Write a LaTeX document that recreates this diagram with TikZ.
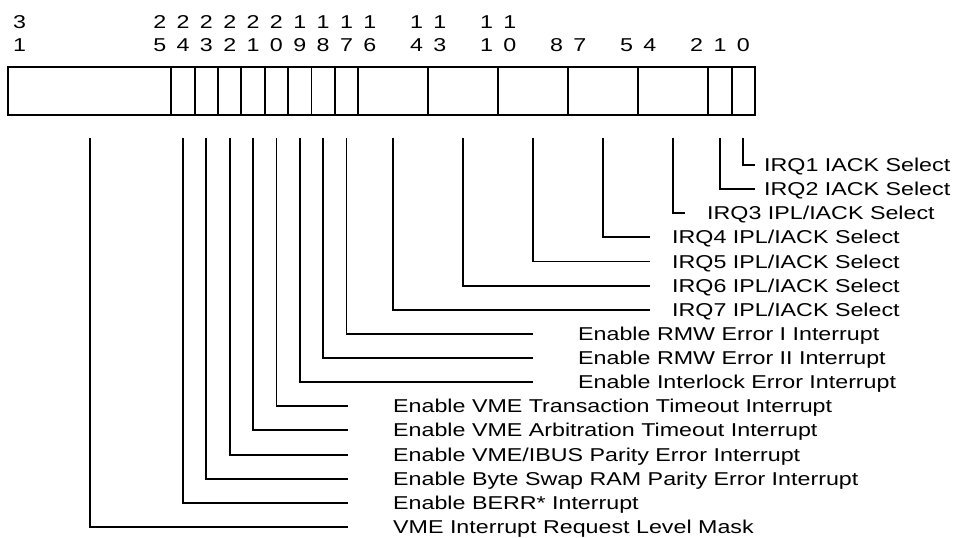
\documentclass[tikz,border=0pt]{standalone}
\usepackage{fontspec}
\setmainfont{Liberation Sans}
\newfontfamily\widesans[FakeStretch=1.25]{Liberation Sans}
\begin{document}
\begin{tikzpicture}[x=1pt,y=-1pt,
  wire/.style={line width=1.9pt},
  lab/.style={anchor=base west,inner sep=0pt,font=\widesans\fontsize{18.6}{18.6}\selectfont},
  num/.style={anchor=base,inner sep=0pt,font=\widesans\fontsize{18.6}{18.6}\selectfont},
  cell/.style={draw,line width=1.9pt,minimum height=48pt,inner sep=0pt,outer sep=0pt,anchor=north west}]
\def\bw{23.34375}
\useasboundingbox (0,0) rectangle (953,538);
% register cells
\node[cell,minimum width=7*\bw pt] (c25) at (8,67) {};
\node[cell,minimum width=\bw pt] (c24) at ({755-25*\bw},67) {};
\node[cell,minimum width=\bw pt] (c23) at ({755-24*\bw},67) {};
\node[cell,minimum width=\bw pt] (c22) at ({755-23*\bw},67) {};
\node[cell,minimum width=\bw pt] (c21) at ({755-22*\bw},67) {};
\node[cell,minimum width=\bw pt] (c20) at ({755-21*\bw},67) {};
\node[cell,minimum width=\bw pt] (c19) at ({755-20*\bw},67) {};
\node[cell,minimum width=\bw pt] (c18) at ({755-19*\bw},67) {};
\node[cell,minimum width=\bw pt] (c17) at ({755-18*\bw},67) {};
\node[cell,minimum width=3*\bw pt] (c14) at ({755-17*\bw},67) {};
\node[cell,minimum width=3*\bw pt] (c11) at ({755-14*\bw},67) {};
\node[cell,minimum width=3*\bw pt] (c8) at ({755-11*\bw},67) {};
\node[cell,minimum width=3*\bw pt] (c5) at ({755-8*\bw},67) {};
\node[cell,minimum width=3*\bw pt] (c2) at ({755-5*\bw},67) {};
\node[cell,minimum width=\bw pt] (c1) at ({755-2*\bw},67) {};
\node[cell,minimum width=\bw pt] (c0) at ({755-1*\bw},67) {};
% bit numbers
\foreach \b in {31,25,24,23,22,21,20,19,18,17,16,14,13,11,10}{
  \pgfmathtruncatemacro\tens{int(\b/10)}
  \pgfmathtruncatemacro\units{\b-10*\tens}
  \node[num] (t\b) at ({755-(\b+0.5)*\bw},28.3) {\tens};
  \node[num] (u\b) at ({755-(\b+0.5)*\bw},51.7) {\units};
}
\foreach \b in {8,7,5,4,2,1,0}{
  \node[num] (u\b) at ({755-(\b+0.5)*\bw},51.7) {\b};
}
% labels
\def\dy{6.5}
\node[lab] (l0) at (764,{165+0*24.13+\dy}) {IRQ1 IACK Select};
\node[lab] (l1) at (764,{165+1*24.13+\dy}) {IRQ2 IACK Select};
\node[lab] (l2) at (707,{165+2*24.13+\dy}) {IRQ3 IPL/IACK Select};
\node[lab] (l5) at (672,{165+3*24.13+\dy}) {IRQ4 IPL/IACK Select};
\node[lab] (l8) at (672,{165+4*24.13+\dy}) {IRQ5 IPL/IACK Select};
\node[lab] (l11) at (672,{165+5*24.13+\dy}) {IRQ6 IPL/IACK Select};
\node[lab] (l14) at (672,{165+6*24.13+\dy}) {IRQ7 IPL/IACK Select};
\node[lab] (l17) at (578,{165+7*24.13+\dy}) {Enable RMW Error I Interrupt};
\node[lab] (l18) at (578,{165+8*24.13+\dy}) {Enable RMW Error II Interrupt};
\node[lab] (l19) at (578,{165+9*24.13+\dy}) {Enable Interlock Error Interrupt};
\node[lab] (l20) at (393,{165+10*24.13+\dy}) {Enable VME Transaction Timeout Interrupt};
\node[lab] (l21) at (393,{165+11*24.13+\dy}) {Enable VME Arbitration Timeout Interrupt};
\node[lab] (l22) at (393,{165+12*24.13+\dy}) {Enable VME/IBUS Parity Error Interrupt};
\node[lab] (l23) at (393,{165+13*24.13+\dy}) {Enable Byte Swap RAM Parity Error Interrupt};
\node[lab] (l24) at (393,{165+14*24.13+\dy}) {Enable BERR* Interrupt};
\node[lab] (l25) at (393,{165+15*24.13+\dy}) {VME Interrupt Request Level Mask};
% connector start and end points
\foreach \n/\x/\e/\i in {0/{755-0.5*\bw}/755/0, 1/{755-1.5*\bw}/755/1, 2/{755-3.5*\bw}/685/2,
  5/{755-6.5*\bw}/650/3, 8/{755-9.5*\bw}/650/4, 11/{755-12.5*\bw}/650/5, 14/{755-15.5*\bw}/650/6,
  17/{755-17.5*\bw}/533/7, 18/{755-18.5*\bw}/533/8, 19/{755-19.5*\bw}/533/9,
  20/{755-20.5*\bw}/348/10, 21/{755-21.5*\bw}/348/11, 22/{755-22.5*\bw}/348/12,
  23/{755-23.5*\bw}/348/13, 24/{755-24.5*\bw}/348/14, 25/{755-28.5*\bw}/348/15}{
  \coordinate (s\n) at ({\x},138);
  \coordinate (e\n) at (\e,{165+\i*24.13});
}
\foreach \n in {0,1,2,5,8,11,14,17,18,19,20,21,22,23,24,25}{
  \draw[wire] (s\n) |- (e\n);
}
\end{tikzpicture}
\end{document}
